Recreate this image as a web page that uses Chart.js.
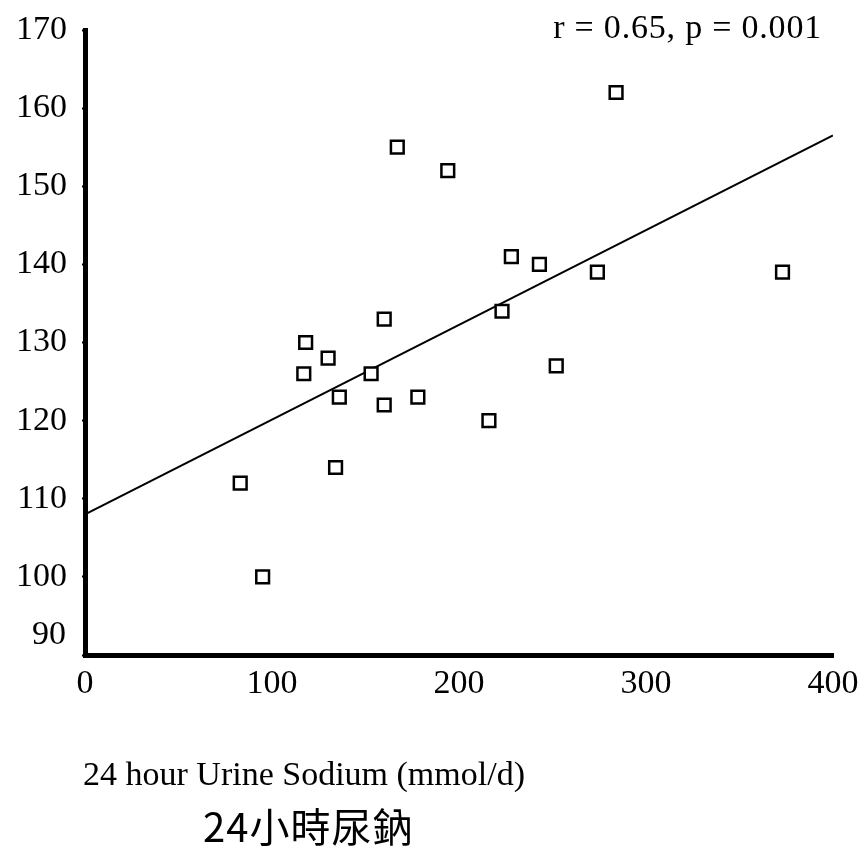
<!DOCTYPE html>
<html>
<head>
<meta charset="utf-8">
<title>24 hour Urine Sodium</title>
<script src="https://cdn.jsdelivr.net/npm/chart.js@4/dist/chart.umd.min.js"></script>
<style>
  html, body { margin: 0; padding: 0; background: #fff; }
  #wrap { width: 863px; height: 854px; }
</style>
</head>
<body>
<div id="wrap"><canvas id="chart" width="863" height="854"></canvas></div>
<script>
// 24 h urine sodium (mmol/d) vs. y value, one point per subject
const sodium = [83, 95, 117, 118, 130, 134, 136, 153, 160, 160, 167, 178, 194, 216, 223, 228, 243, 252, 274, 284, 373];
const yVals  = [112, 100, 126, 130, 128, 114, 123, 126, 133, 122, 155, 123, 152, 120, 134, 141, 140, 127, 139, 162, 139];

// fitted regression line, end points at x = 0 and x = 400
const fitX = [0, 400];
const fitY = [108, 156.5];

const xTicks = [0, 100, 200, 300, 400];
const yTicks = [90, 100, 110, 120, 130, 140, 150, 160, 170];

const statText = "r = 0.65, p = 0.001";
const titleEn = "24 hour Urine Sodium (mmol/d)";
const titleZh = "24小時尿鈉";

const SERIF = "'Liberation Serif', 'Times New Roman', serif";

// extra text: stat label, the two axis titles and the lifted "90" label
const annotations = {
  id: "annotations",
  afterDraw(chart) {
    const ctx = chart.ctx;
    const y = chart.scales.y;
    ctx.save();
    ctx.fillStyle = "#000";

    ctx.font = "34px " + SERIF;
    ctx.textAlign = "right";
    ctx.textBaseline = "middle";
    ctx.fillText("90", 66, y.getPixelForValue(90) - 20);

    ctx.font = "34px " + SERIF;
    ctx.letterSpacing = "0.8px";
    ctx.textAlign = "right";
    ctx.textBaseline = "alphabetic";
    ctx.fillText(statText, 822, 38);

    ctx.letterSpacing = "0px";
    ctx.font = "34px " + SERIF;
    ctx.textAlign = "left";
    ctx.fillText(titleEn, 83, 785);

    ctx.font = "40px 'Noto Sans CJK TC', 'Noto Sans CJK SC', sans-serif";
    ctx.letterSpacing = "1px";
    ctx.fillText(titleZh, 203, 842);
    ctx.restore();
  }
};

// keep the plot box fixed: labels may overhang into the outer padding
const noEdgePadding = (s) => {
  s.paddingTop = 0;
  s.paddingBottom = 0;
  s.paddingLeft = 0;
  s.paddingRight = 0;
};

new Chart(document.getElementById("chart"), {
  type: "scatter",
  data: {
    datasets: [
      {
        label: "subjects",
        data: sodium.map((x, i) => ({ x, y: yVals[i] })),
        pointStyle: "rect",
        pointRadius: 9,
        pointHoverRadius: 9,
        pointBorderWidth: 2.5,
        pointBorderColor: "#000",
        pointBackgroundColor: "#fff",
      },
      {
        type: "line",
        label: "fit",
        data: fitX.map((x, i) => ({ x, y: fitY[i] })),
        borderColor: "#000",
        borderWidth: 2,
        pointRadius: 0,
        fill: false,
      },
    ],
  },
  options: {
    responsive: false,
    animation: false,
    layout: { padding: { top: 30, right: 30, left: 0, bottom: 0 } },
    plugins: { legend: { display: false }, tooltip: { enabled: false } },
    scales: {
      x: {
        type: "linear",
        min: 0,
        max: 400,
        afterBuildTicks: (s) => { s.ticks = xTicks.map((v) => ({ value: v })); },
        afterFit: (s) => { s.height = 199; noEdgePadding(s); },
        grid: { drawOnChartArea: false, drawTicks: true, tickLength: 3, tickWidth: 2, tickColor: "#000" },
        border: { display: true, color: "#000", width: 5 },
        ticks: { color: "#000", font: { family: SERIF, size: 34 }, padding: 6, maxRotation: 0 },
      },
      y: {
        type: "linear",
        min: 90,
        max: 170,
        afterBuildTicks: (s) => { s.ticks = yTicks.map((v) => ({ value: v })); },
        afterFit: (s) => { s.width = 85; noEdgePadding(s); },
        grid: { drawOnChartArea: false, drawTicks: true, tickLength: 3, tickWidth: 2, tickColor: "#000" },
        border: { display: true, color: "#000", width: 5 },
        ticks: {
          color: "#000",
          font: { family: SERIF, size: 34 },
          padding: 15,
          callback: (v) => (v === 90 ? "" : v),
        },
      },
    },
  },
  plugins: [annotations],
});
</script>
</body>
</html>
